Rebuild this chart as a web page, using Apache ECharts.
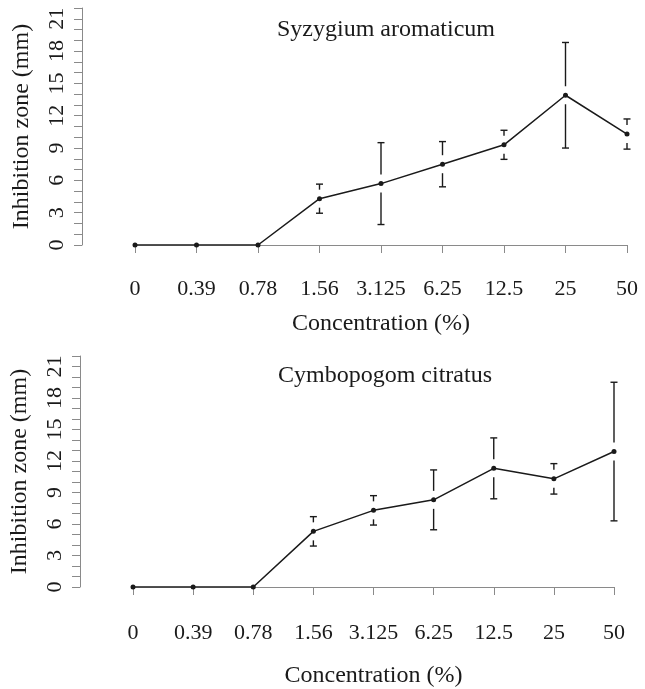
<!DOCTYPE html>
<html>
<head>
<meta charset="utf-8">
<script src="https://cdn.jsdelivr.net/npm/echarts@6/dist/echarts.min.js"></script>
<style>
  html, body { margin: 0; padding: 0; background: #fff; }
  #main { width: 645px; height: 689px; }
</style>
</head>
<body>
<div id="main"></div>
<script>
// concentrations (%) on the x axis
var concLabels = ['0', '0.39', '0.78', '1.56', '3.125', '6.25', '12.5', '25', '50'];

// Syzygium aromaticum: mean inhibition zone (mm) and error
var syzMean = [0, 0, 0, 4.3, 5.7, 7.5, 9.3, 13.9, 10.3];
var syzErr = [0, 0, 0, 1.35, 3.8, 2.1, 1.35, 4.9, 1.4];

// Cymbopogom citratus
var cymMean = [0, 0, 0, 5.3, 7.3, 8.3, 11.3, 10.3, 12.9];
var cymErr = [0, 0, 0, 1.4, 1.4, 2.85, 2.9, 1.45, 6.6];

var FONT = 'Liberation Serif';
var INK = '#1a1a1a';
var AXIS = '#8a8a8a';

function errData(mean, err) {
  var out = [];
  for (var i = 0; i < mean.length; i++) out.push([i, mean[i], err[i]]);
  return out;
}

// error bars with a gap around the point, like plotCI
function renderErr(params, api) {
  var e = api.value(2);
  if (!e) return;
  var i = api.value(0), m = api.value(1);
  var p = api.coord([i, m]);
  var top = api.coord([i, m + e]);
  var bot = api.coord([i, m - e]);
  var gap = 9, cap = 3.5;
  var st = { stroke: INK, lineWidth: 1.4 };
  var kids = [];
  if (p[1] - top[1] > gap) {
    kids.push({ type: 'line', shape: { x1: p[0], y1: p[1] - gap, x2: p[0], y2: top[1] }, style: st });
  }
  kids.push({ type: 'line', shape: { x1: p[0] - cap, y1: top[1], x2: p[0] + cap, y2: top[1] }, style: st });
  if (bot[1] - p[1] > gap) {
    kids.push({ type: 'line', shape: { x1: p[0], y1: p[1] + gap, x2: p[0], y2: bot[1] }, style: st });
  }
  kids.push({ type: 'line', shape: { x1: p[0] - cap, y1: bot[1], x2: p[0] + cap, y2: bot[1] }, style: st });
  return { type: 'group', children: kids };
}

function xAxisFor(idx, off, gapName) {
  return {
    type: 'category',
    gridIndex: idx,
    data: concLabels,
    boundaryGap: false,
    offset: off,
    axisLine: { lineStyle: { color: AXIS, width: 1 } },
    axisTick: { length: 8, interval: 0, lineStyle: { color: AXIS } },
    axisLabel: { color: INK, fontFamily: FONT, fontSize: 22, margin: 18, interval: 0 },
    name: 'Concentration (%)',
    nameLocation: 'middle',
    nameGap: gapName,
    nameTextStyle: { color: INK, fontFamily: FONT, fontSize: 24 }
  };
}

function yAxisFor(idx, off) {
  return {
    type: 'value',
    gridIndex: idx,
    min: 0,
    max: 22,
    interval: 1,
    offset: off,
    splitLine: { show: false },
    axisLine: { show: true, lineStyle: { color: AXIS, width: 1 } },
    axisTick: { show: true, length: 8, lineStyle: { color: AXIS } },
    axisLabel: {
      color: INK, fontFamily: FONT, fontSize: 22, rotate: 90, margin: 14,
      formatter: function (v) { return v % 3 === 0 ? String(v) : ''; }
    },
    name: 'Inhibition zone (mm)',
    nameLocation: 'middle',
    nameRotate: 90,
    nameGap: 48,
    nameTextStyle: { color: INK, fontFamily: FONT, fontSize: 24 }
  };
}

function lineSeries(idx, data) {
  return {
    type: 'line',
    xAxisIndex: idx,
    yAxisIndex: idx,
    data: data,
    symbol: 'circle',
    symbolSize: 5,
    itemStyle: { color: INK },
    lineStyle: { color: INK, width: 1.5 },
    z: 3
  };
}

function errSeries(idx, mean, err) {
  return {
    type: 'custom',
    xAxisIndex: idx,
    yAxisIndex: idx,
    data: errData(mean, err),
    encode: { x: 0, y: 1 },
    renderItem: renderErr,
    clip: false,
    z: 2
  };
}

var myChart = echarts.init(document.getElementById('main'), null, { renderer: 'canvas' });

var option = {
  animation: false,
  backgroundColor: '#fff',
  title: [
    {
      text: 'Syzygium aromaticum',
      left: 381, top: 13, textAlign: 'center',
      textStyle: { color: INK, fontFamily: FONT, fontSize: 24, fontWeight: 'normal' }
    },
    {
      text: 'Cymbopogom citratus',
      left: 380, top: 359, textAlign: 'center',
      textStyle: { color: INK, fontFamily: FONT, fontSize: 24, fontWeight: 'normal' }
    }
  ],
  grid: [
    { left: 135, right: 18, top: 8, bottom: 444 },
    { left: 131, right: 31, top: 356, bottom: 101 }
  ],
  xAxis: [xAxisFor(0, 15, 52), xAxisFor(1, 17, 60)],
  yAxis: [yAxisFor(0, 53), yAxisFor(1, 53)],
  series: [
    errSeries(0, syzMean, syzErr),
    lineSeries(0, syzMean),
    errSeries(1, cymMean, cymErr),
    lineSeries(1, cymMean)
  ]
};

myChart.setOption(option);
</script>
</body>
</html>
